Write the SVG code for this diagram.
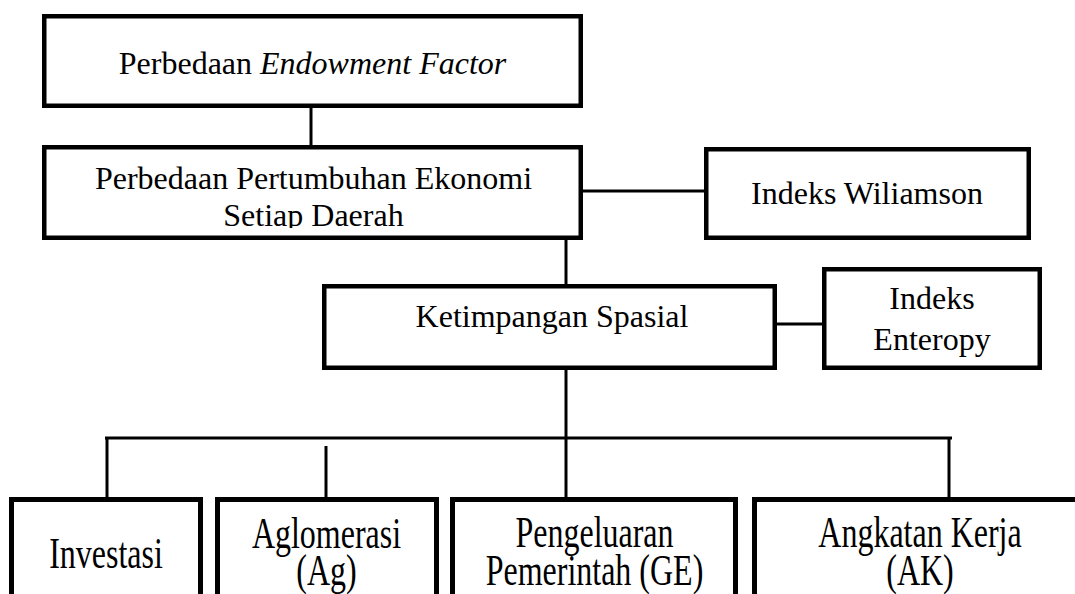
<svg xmlns="http://www.w3.org/2000/svg" width="1075" height="594" viewBox="0 0 1075 594">
<style>
.box{fill:#fff;stroke:#000;stroke-width:4.5}
.bbox{fill:#fff;stroke:#000;stroke-width:5}
.ln{stroke:#000;stroke-width:3;fill:none}
.t{font-family:"Liberation Serif","Times New Roman",serif;font-size:32px;fill:#000;text-anchor:middle}
</style>
<defs>
<clipPath id="c2"><rect x="40" y="140" width="550" height="88"/></clipPath>
</defs>
<rect width="1075" height="594" fill="#fff"/>
<g id="connectors">
<line class="ln" x1="311" y1="108" x2="311" y2="145"/>
<line class="ln" x1="583" y1="191" x2="704" y2="191"/>
<line class="ln" x1="566" y1="240" x2="566" y2="284"/>
<line class="ln" x1="777" y1="324" x2="822" y2="324"/>
<line class="ln" x1="566" y1="370" x2="566" y2="497"/>
<line class="ln" x1="105" y1="438" x2="952" y2="438"/>
<line class="ln" x1="107" y1="438" x2="107" y2="497"/>
<line class="ln" x1="326" y1="446" x2="326" y2="497"/>
<line class="ln" x1="949" y1="438" x2="949" y2="497"/>
</g>
<g id="endowment">
<rect class="box" x="44.25" y="16.25" width="536.5" height="89.5"/>
<text class="t" x="312.5" y="74">Perbedaan <tspan font-style="italic">Endowment Factor</tspan></text>
</g>
<g id="pertumbuhan">
<rect class="box" x="44.25" y="147.25" width="536.5" height="90.5"/>
<g clip-path="url(#c2)">
<text class="t" x="313.5" y="189">Perbedaan Pertumbuhan Ekonomi</text>
<text class="t" x="313.5" y="226">Setiap Daerah</text>
</g>
</g>
<g id="wiliamson">
<rect class="box" x="706.25" y="149.25" width="322.5" height="88.5"/>
<text class="t" x="867" y="204">Indeks Wiliamson</text>
</g>
<g id="ketimpangan">
<rect class="box" x="324.25" y="286.25" width="450.5" height="81.5"/>
<text class="t" x="552" y="327">Ketimpangan Spasial</text>
</g>
<g id="enteropy">
<rect class="box" x="824.25" y="269.25" width="215.5" height="98.5"/>
<text class="t" x="932" y="309">Indeks</text>
<text class="t" x="932" y="350">Enteropy</text>
</g>
<g id="investasi">
<rect class="bbox" x="11.5" y="499.5" width="189" height="110"/>
<text class="t" transform="translate(106 568) scale(1 1.4)">Investasi</text>
</g>
<g id="aglomerasi">
<rect class="bbox" x="217.5" y="499.5" width="219" height="110"/>
<text class="t" transform="translate(326.5 548) scale(1 1.4)">Aglomerasi</text>
<text class="t" transform="translate(326.5 585) scale(1 1.4)">(Ag)</text>
</g>
<g id="pengeluaran">
<rect class="bbox" x="452.5" y="499.5" width="283" height="110"/>
<text class="t" transform="translate(594.5 547) scale(1 1.4)">Pengeluaran</text>
<text class="t" transform="translate(594.5 585) scale(1 1.4)">Pemerintah (GE)</text>
</g>
<g id="angkatan">
<rect class="bbox" x="754.5" y="499.5" width="340" height="110"/>
<text class="t" transform="translate(920 547) scale(1 1.4)">Angkatan Kerja</text>
<text class="t" transform="translate(920 585) scale(1 1.4)">(AK)</text>
</g>
</svg>
